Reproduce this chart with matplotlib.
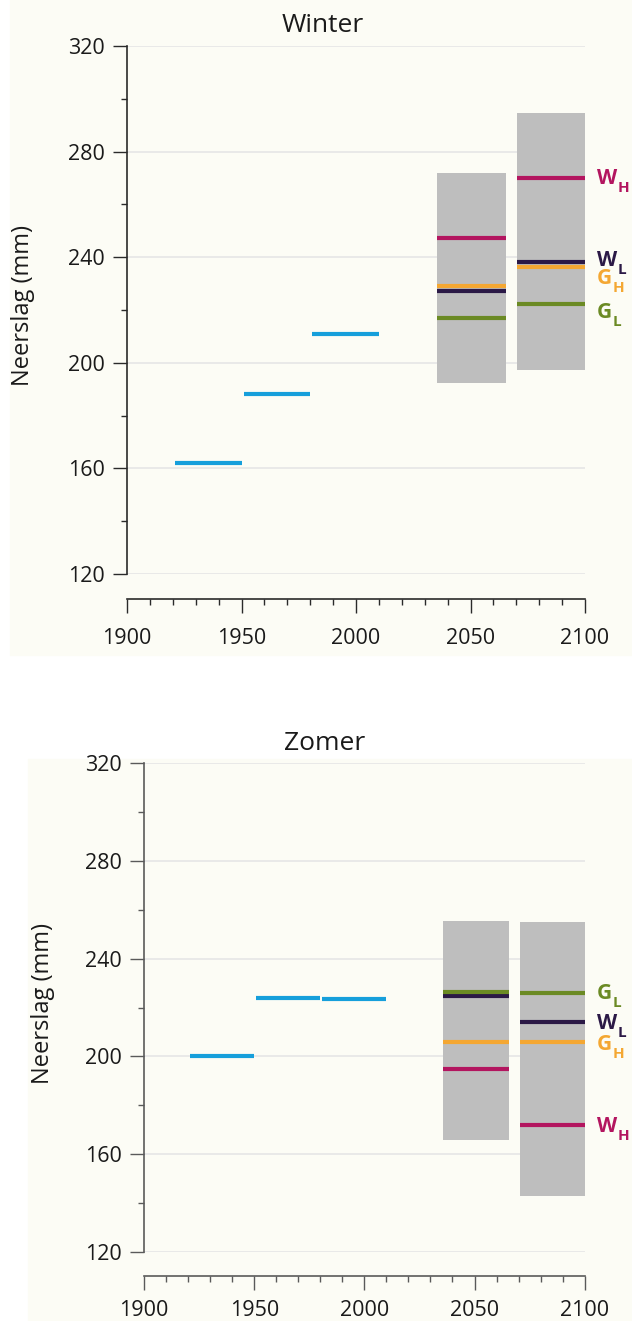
import matplotlib
matplotlib.use("Agg")
import matplotlib.pyplot as plt
from matplotlib.patches import Rectangle
from matplotlib.ticker import MultipleLocator

plt.rcParams['font.family'] = ['Open Sans', 'DejaVu Sans']

# ---------------- data ----------------
hist_start = [1921, 1951, 1981]
hist_end = [1950, 1980, 2010]
winter_hist = [162.2, 188.3, 210.9]
zomer_hist = [200.0, 224.0, 223.5]

period_start = [2035.5, 2070.5]
period_end = [2065.5, 2100.0]
winter_range_low = [192.5, 197.3]
winter_range_high = [271.8, 294.7]
zomer_range_low = [165.7, 142.9]
zomer_range_high = [255.5, 254.8]

scenario_names = ['W', 'W', 'G', 'G']
scenario_subs = ['H', 'L', 'H', 'L']
scenario_colors = ['#b3155f', '#2b1946', '#f4a732', '#6b8a24']
winter_WH = [247.2, 270.0]
winter_WL = [227.2, 238.1]
winter_GH = [229.1, 236.2]
winter_GL = [217.1, 222.2]
zomer_WH = [194.8, 171.8]
zomer_WL = [224.5, 213.9]
zomer_GH = [205.8, 205.8]
zomer_GL = [226.3, 225.8]

yticks = [120, 160, 200, 240, 280, 320]
xticks = [1900, 1950, 2000, 2050, 2100]

# label nudges (px below the line, baseline of main letter)
winter_label_dy = [-6, -4, -17, -14]
zomer_label_dy = [-6.6, -6.4, -7.5, -5.4]

W, H = 632, 1321
fig = plt.figure(figsize=(W / 100, H / 100), dpi=100)
fig.patch.set_facecolor('white')
cream = '#fcfcf5'
fig.patches.append(Rectangle((10 / W, 1 - 655 / H), (W - 10) / W, 655 / H,
                             transform=fig.transFigure, color=cream, zorder=-10))
fig.patches.append(Rectangle((28 / W, 0), (W - 28) / W, 1 - 759 / H,
                             transform=fig.transFigure, color=cream, zorder=-10))


def make_axes(rect, spine_col, outward, xpad):
    ax = fig.add_axes(rect)
    ax.set_facecolor('none')
    ax.set_xlim(1900, 2100)
    ax.set_ylim(120, 320)
    for s in ['top', 'right']:
        ax.spines[s].set_visible(False)
    ax.spines['left'].set_color(spine_col)
    ax.spines['bottom'].set_color(spine_col)
    ax.spines['left'].set_linewidth(1.2)
    ax.spines['bottom'].set_linewidth(1.2)
    ax.spines['bottom'].set_position(('outward', outward))
    ax.set_yticks(yticks)
    ax.yaxis.set_minor_locator(MultipleLocator(20))
    ax.set_xticks(xticks)
    ax.xaxis.set_minor_locator(MultipleLocator(10))
    ax.tick_params(axis='y', which='major', length=10, width=1, color=spine_col,
                   pad=6, labelsize=15.5, labelcolor='#1a1a1a')
    ax.tick_params(axis='y', which='minor', length=4.5, width=1, color=spine_col)
    ax.tick_params(axis='x', which='major', length=10, width=1, color=spine_col,
                   pad=xpad, labelsize=15.5, labelcolor='#1a1a1a')
    ax.tick_params(axis='x', which='minor', length=4.5, width=1, color=spine_col)
    ax.yaxis.grid(True, which='major', color='#e6e6e6', lw=1.2)
    ax.set_axisbelow(True)
    return ax


def draw(ax, hist, lows, highs, scen, label_order, label_dy):
    ax.hlines(hist, hist_start, hist_end, colors='#169fdb', lw=3, zorder=3,
              capstyle='butt')
    widths = [e - s for s, e in zip(period_start, period_end)]
    heights = [h - l for l, h in zip(lows, highs)]
    ax.bar(period_start, heights, width=widths, bottom=lows, align='edge',
           color='#bebebe', zorder=2)
    for vals, col in scen:
        ax.hlines(vals, period_start, period_end, colors=col, lw=3, zorder=3,
                  capstyle='butt')
    for (idx, dy) in zip(label_order, label_dy):
        vals, col = scen[idx]
        y = vals[1]
        main = scenario_names[idx]
        sub = scenario_subs[idx]
        ax.annotate(main, xy=(2100, y), xycoords='data',
                    xytext=(12 * 0.72, dy * 0.72), textcoords='offset points',
                    color=col, fontsize=15, fontweight='bold', va='baseline',
                    ha='left', annotation_clip=False)
        subx = 33 if main == 'W' else 28
        ax.annotate(sub, xy=(2100, y), xycoords='data',
                    xytext=(subx * 0.72, (dy - 8) * 0.72), textcoords='offset points',
                    color=col, fontsize=11, fontweight='bold', va='baseline',
                    ha='left', annotation_clip=False)


# ---------------- Winter ----------------
ax1 = make_axes([127 / W, 1 - 574 / H, 458 / W, 528 / H], '#2a2a2a', 18, 11)
winter_scen = [(winter_WH, scenario_colors[0]), (winter_WL, scenario_colors[1]),
               (winter_GH, scenario_colors[2]), (winter_GL, scenario_colors[3])]
draw(ax1, winter_hist, winter_range_low, winter_range_high, winter_scen,
     [0, 1, 2, 3], winter_label_dy)
fig.text(323 / W, 1 - 25 / H, 'Winter', ha='center', va='center', fontsize=19,
         color='#1a1a1a')
fig.text(23 / W, 1 - 306 / H, 'Neerslag (mm)', ha='center', va='center',
         rotation=90, fontsize=17, color='#1a1a1a')

# ---------------- Zomer ----------------
ax2 = make_axes([144 / W, 1 - 1252.3 / H, 440.7 / W, 489.6 / H], '#5a5a5a', 17, 7.5)
zomer_scen = [(zomer_WH, scenario_colors[0]), (zomer_WL, scenario_colors[1]),
              (zomer_GH, scenario_colors[2]), (zomer_GL, scenario_colors[3])]
draw(ax2, zomer_hist, zomer_range_low, zomer_range_high, zomer_scen,
     [0, 1, 2, 3], zomer_label_dy)
fig.text(325 / W, 1 - 743 / H, 'Zomer', ha='center', va='center', fontsize=19,
         color='#1a1a1a')
fig.text(43 / W, 1 - 1004 / H, 'Neerslag (mm)', ha='center', va='center',
         rotation=90, fontsize=17, color='#1a1a1a')

fig.savefig('out.png', dpi=100)
